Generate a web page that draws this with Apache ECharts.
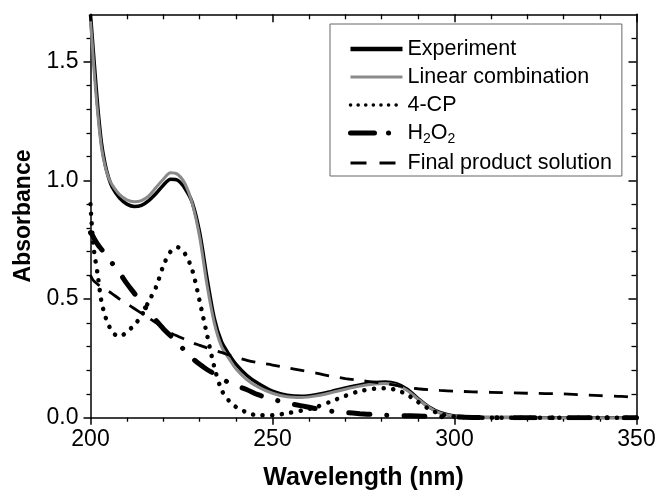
<!DOCTYPE html>
<html>
<head>
<meta charset="utf-8">
<script src="https://cdn.jsdelivr.net/npm/echarts@6/dist/echarts.min.js"></script>
<style>
  html, body { margin: 0; padding: 0; background: #ffffff; }
  #chart { width: 659px; height: 496px; }
</style>
</head>
<body>
<div id="chart"></div>
<script>
// Wavelength grid (nm) shared by all spectra
const wavelength = [200, 200.5, 201, 202, 203, 204, 205, 206, 208, 210, 212, 214, 216, 218, 220,
  222, 224, 226, 228, 230, 232, 234, 236, 238, 240, 243, 246, 250, 254, 258, 262, 266, 270,
  274, 278, 281, 284, 287, 290, 293, 296, 300, 305, 310, 320, 330, 340, 345, 348, 350];

// Absorbance spectra
const experiment = [1.70, 1.60, 1.50, 1.31, 1.16, 1.07, 1.01, 0.97, 0.925, 0.90, 0.89, 0.895, 0.915, 0.945, 0.98,
  1.005, 1.00, 0.965, 0.905, 0.78, 0.59, 0.42, 0.32, 0.268, 0.225, 0.178, 0.145, 0.112, 0.095, 0.09, 0.097, 0.11, 0.125,
  0.138, 0.148, 0.150, 0.143, 0.12, 0.08, 0.045, 0.022, 0.007, 0.002, 0.001, 0, 0, 0, 0, 0, 0];

const linearCombination = [1.67, 1.57, 1.46, 1.28, 1.14, 1.06, 1.01, 0.98, 0.94, 0.918, 0.91, 0.915, 0.935, 0.97, 1.005,
  1.032, 1.025, 0.985, 0.90, 0.76, 0.56, 0.40, 0.30, 0.25, 0.205, 0.16, 0.13, 0.103, 0.088, 0.085, 0.092, 0.105, 0.12,
  0.133, 0.142, 0.144, 0.137, 0.115, 0.078, 0.044, 0.02, 0.006, 0.002, 0.001, 0, 0, 0, 0, 0, 0];

const chlorophenol = [0.90, 0.78, 0.70, 0.60, 0.49, 0.43, 0.39, 0.36, 0.342, 0.362, 0.39, 0.43, 0.49, 0.55, 0.64,
  0.70, 0.718, 0.69, 0.62, 0.49, 0.35, 0.215, 0.117, 0.072, 0.045, 0.022, 0.01, 0.01, 0.019, 0.03, 0.045, 0.068, 0.092,
  0.112, 0.122, 0.124, 0.117, 0.097, 0.066, 0.037, 0.016, 0.005, 0.001, 0, 0, 0, 0, 0, 0, 0];

const peroxide = [0.78, 0.77, 0.755, 0.73, 0.71, 0.69, 0.67, 0.65, 0.61, 0.565, 0.525, 0.485, 0.447, 0.41, 0.375,
  0.345, 0.315, 0.28, 0.25, 0.225, 0.203, 0.185, 0.165, 0.148, 0.135, 0.118, 0.097, 0.078, 0.062, 0.05, 0.038, 0.028, 0.022,
  0.017, 0.013, 0.011, 0.009, 0.008, 0.007, 0.005, 0.004, 0.003, 0.001, 0, 0, 0, 0, 0, 0, 0];

const finalProduct = [0.60, 0.585, 0.575, 0.562, 0.55, 0.54, 0.532, 0.522, 0.50, 0.48, 0.46, 0.44, 0.42, 0.40, 0.38,
  0.358, 0.343, 0.33, 0.316, 0.305, 0.294, 0.284, 0.275, 0.265, 0.255, 0.242, 0.232, 0.222, 0.21, 0.199, 0.188, 0.175, 0.165,
  0.157, 0.15, 0.144, 0.136, 0.128, 0.122, 0.118, 0.115, 0.112, 0.109, 0.107, 0.103, 0.10, 0.093, 0.09, 0.087, 0.06];

const seriesNames = ['Experiment', 'Linear combination', '4-CP', 'H2O2', 'Final product solution'];
const yTicks = [0, 0.5, 1.0, 1.5];

const FONT = "'Liberation Sans', Arial, Helvetica, sans-serif";
const pairs = arr => wavelength.map((w, i) => [w, arr[i]]);

const axisLine = { onZero: false, lineStyle: { color: '#000', width: 1.5 } };
// legend samples show the line only, no marker
const noMarker = { opacity: 0, borderWidth: 0 };

const chart = echarts.init(document.getElementById('chart'), null, { renderer: 'canvas' });

chart.setOption({
  backgroundColor: '#ffffff',
  animation: false,
  grid: { left: 90.5, right: 22.5, top: 14.3, bottom: 78.3, containLabel: false },
  legend: {
    orient: 'vertical',
    left: 330,
    top: 24,
    padding: [14, 10, 2, 18],
    itemGap: 6,
    itemWidth: 52,
    itemHeight: 14,
    borderColor: '#666',
    borderWidth: 1,
    textStyle: {
      fontFamily: FONT, fontSize: 21.5, color: '#000', lineHeight: 22,
      rich: {
        sub: { fontFamily: FONT, fontSize: 14, color: '#000', padding: [12, 0, 0, 0] }
      }
    },
    formatter: name => name === 'H2O2' ? 'H{sub|2}O{sub|2}' : name,
    data: [
      { name: 'Experiment', itemStyle: noMarker, lineStyle: { width: 4.5 } },
      { name: 'Linear combination', itemStyle: noMarker, lineStyle: { width: 3 } },
      { name: '4-CP', itemStyle: noMarker, lineStyle: { width: 3.5, type: [0.1, 7.5], cap: 'round' } },
      { name: 'H2O2', itemStyle: noMarker, lineStyle: { width: 5, type: [24, 14, 0.1, 30], cap: 'round' } },
      { name: 'Final product solution', itemStyle: noMarker, lineStyle: { width: 3, type: [16, 13] } }
    ]
  },
  xAxis: [
    {
      type: 'value', min: 200, max: 350, interval: 50, position: 'bottom',
      axisLine: axisLine,
      axisTick: { length: 7, lineStyle: { color: '#000', width: 1.5 } },
      minorTick: { show: true, splitNumber: 5, length: 4, lineStyle: { color: '#000', width: 1.3 } },
      splitLine: { show: false },
      axisLabel: { fontFamily: FONT, fontSize: 23, color: '#000', margin: 10 },
      name: 'Wavelength (nm)', nameLocation: 'middle', nameGap: 48,
      nameTextStyle: { fontFamily: FONT, fontSize: 25, fontWeight: 'bold', color: '#000' }
    },
    {
      type: 'value', min: 200, max: 350, interval: 50, position: 'top',
      axisLine: axisLine,
      axisTick: { inside: true, length: 8, lineStyle: { color: '#000', width: 1.5 } },
      minorTick: { show: true, splitNumber: 5, length: 5, lineStyle: { color: '#000', width: 1.3 } },
      splitLine: { show: false },
      axisLabel: { show: false }
    }
  ],
  yAxis: [
    {
      type: 'value', min: 0, max: 1.7, interval: 0.5, position: 'left',
      axisLine: axisLine,
      axisTick: { length: 7, customValues: yTicks, lineStyle: { color: '#000', width: 1.5 } },
      minorTick: { show: true, splitNumber: 5, length: 4, lineStyle: { color: '#000', width: 1.3 } },
      splitLine: { show: false },
      axisLabel: {
        fontFamily: FONT, fontSize: 23, color: '#000', margin: 12,
        customValues: yTicks, formatter: v => v.toFixed(1)
      },
      name: 'Absorbance', nameLocation: 'middle', nameGap: 55,
      nameTextStyle: { fontFamily: FONT, fontSize: 23, fontWeight: 'bold', color: '#000' }
    },
    {
      type: 'value', min: 0, max: 1.7, interval: 0.5, position: 'right',
      axisLine: axisLine,
      axisTick: { inside: true, length: 8, customValues: yTicks, lineStyle: { color: '#000', width: 1.5 } },
      minorTick: { show: true, splitNumber: 5, length: 5, lineStyle: { color: '#000', width: 1.3 } },
      splitLine: { show: false },
      axisLabel: { show: false }
    }
  ],
  series: [
    {
      name: seriesNames[0], type: 'line', data: pairs(experiment), symbol: 'none', smooth: 0.3,
      color: '#000', lineStyle: { color: '#000', width: 3.5 }, z: 2
    },
    {
      name: seriesNames[1], type: 'line', data: pairs(linearCombination), symbol: 'none', smooth: 0.3,
      color: '#8a8a8a', lineStyle: { color: '#8a8a8a', width: 3 }, z: 3
    },
    {
      name: seriesNames[2], type: 'line', data: pairs(chlorophenol), symbol: 'none', smooth: 0.3,
      color: '#000', lineStyle: { color: '#000', width: 4.5, type: [0.1, 9.5], cap: 'round' }, z: 4
    },
    {
      name: seriesNames[3], type: 'line', data: pairs(peroxide), symbol: 'none', smooth: 0.3,
      color: '#000', lineStyle: { color: '#000', width: 5, type: [21, 17, 0.1, 17], cap: 'round' }, z: 4
    },
    {
      name: seriesNames[4], type: 'line', data: pairs(finalProduct), symbol: 'none', smooth: 0.3,
      color: '#000', lineStyle: { color: '#000', width: 2.8, type: [14, 11] }, z: 4
    }
  ]
});
</script>
</body>
</html>
